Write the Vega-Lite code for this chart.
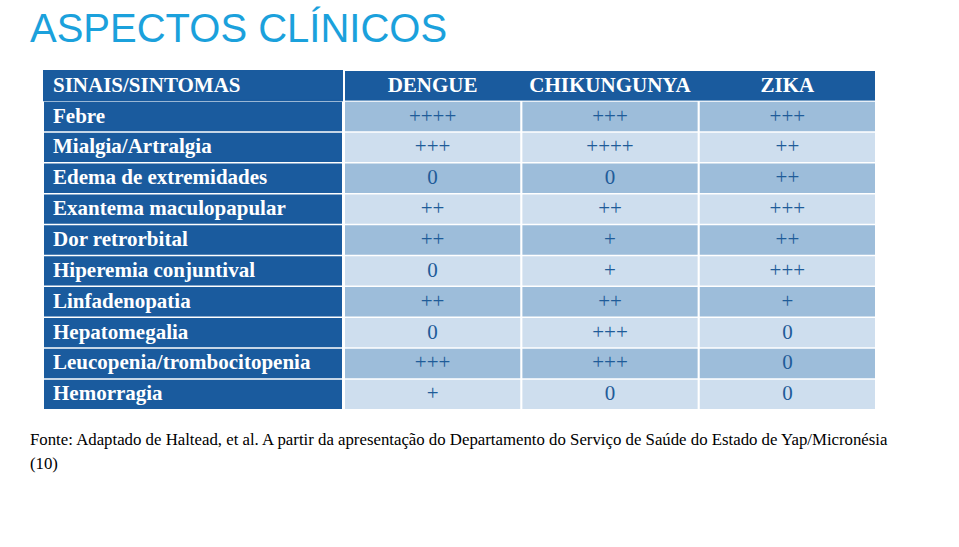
{
  "$schema": "https://vega.github.io/schema/vega-lite/v6.json",
  "background": "white",
  "padding": {"left": 30, "top": 10, "right": 5, "bottom": 5},
  "config": {"view": {"stroke": null}},
  "datasets": {
    "cells": [
      {"symptom": "Febre", "disease": "DENGUE", "value": "++++"},
      {"symptom": "Febre", "disease": "CHIKUNGUNYA", "value": "+++"},
      {"symptom": "Febre", "disease": "ZIKA", "value": "+++"},
      {"symptom": "Mialgia/Artralgia", "disease": "DENGUE", "value": "+++"},
      {"symptom": "Mialgia/Artralgia", "disease": "CHIKUNGUNYA", "value": "++++"},
      {"symptom": "Mialgia/Artralgia", "disease": "ZIKA", "value": "++"},
      {"symptom": "Edema de extremidades", "disease": "DENGUE", "value": "0"},
      {"symptom": "Edema de extremidades", "disease": "CHIKUNGUNYA", "value": "0"},
      {"symptom": "Edema de extremidades", "disease": "ZIKA", "value": "++"},
      {"symptom": "Exantema maculopapular", "disease": "DENGUE", "value": "++"},
      {"symptom": "Exantema maculopapular", "disease": "CHIKUNGUNYA", "value": "++"},
      {"symptom": "Exantema maculopapular", "disease": "ZIKA", "value": "+++"},
      {"symptom": "Dor retrorbital", "disease": "DENGUE", "value": "++"},
      {"symptom": "Dor retrorbital", "disease": "CHIKUNGUNYA", "value": "+"},
      {"symptom": "Dor retrorbital", "disease": "ZIKA", "value": "++"},
      {"symptom": "Hiperemia conjuntival", "disease": "DENGUE", "value": "0"},
      {"symptom": "Hiperemia conjuntival", "disease": "CHIKUNGUNYA", "value": "+"},
      {"symptom": "Hiperemia conjuntival", "disease": "ZIKA", "value": "+++"},
      {"symptom": "Linfadenopatia", "disease": "DENGUE", "value": "++"},
      {"symptom": "Linfadenopatia", "disease": "CHIKUNGUNYA", "value": "++"},
      {"symptom": "Linfadenopatia", "disease": "ZIKA", "value": "+"},
      {"symptom": "Hepatomegalia", "disease": "DENGUE", "value": "0"},
      {"symptom": "Hepatomegalia", "disease": "CHIKUNGUNYA", "value": "+++"},
      {"symptom": "Hepatomegalia", "disease": "ZIKA", "value": "0"},
      {"symptom": "Leucopenia/trombocitopenia", "disease": "DENGUE", "value": "+++"},
      {"symptom": "Leucopenia/trombocitopenia", "disease": "CHIKUNGUNYA", "value": "+++"},
      {"symptom": "Leucopenia/trombocitopenia", "disease": "ZIKA", "value": "0"},
      {"symptom": "Hemorragia", "disease": "DENGUE", "value": "+"},
      {"symptom": "Hemorragia", "disease": "CHIKUNGUNYA", "value": "0"},
      {"symptom": "Hemorragia", "disease": "ZIKA", "value": "0"}
    ]
  },
  "title": {
    "text": "ASPECTOS CLÍNICOS",
    "anchor": "start",
    "frame": "bounds",
    "font": "Liberation Sans",
    "fontSize": 40,
    "fontWeight": "normal",
    "color": "#1BA1DC",
    "offset": 20
  },
  "vconcat": [
    {
      "title": {
        "text": ["Fonte: Adaptado de Haltead, et al. A partir da apresentação do Departamento do Serviço de Saúde do Estado de Yap/Micronésia", "(10)"],
        "orient": "bottom",
        "anchor": "start",
        "frame": "bounds",
        "font": "Liberation Serif",
        "fontSize": 16.8,
        "fontWeight": "normal",
        "color": "#000000",
        "lineHeight": 24,
        "dx": -13,
        "offset": 23
      },
      "spacing": 2,
      "hconcat": [
        {
          "width": 298,
          "height": 338,
          "data": {"name": "cells"},
          "transform": [{"filter": "datum.disease === 'DENGUE'"}],
          "encoding": {
            "y": {
              "field": "symptom",
              "type": "nominal",
              "scale": {
                "domain": ["SINAIS/SINTOMAS", "Febre", "Mialgia/Artralgia", "Edema de extremidades", "Exantema maculopapular", "Dor retrorbital", "Hiperemia conjuntival", "Linfadenopatia", "Hepatomegalia", "Leucopenia/trombocitopenia", "Hemorragia"],
                "paddingInner": 0.05,
                "paddingOuter": 0
              },
              "axis": null
            }
          },
          "layer": [
            {"mark": {"type": "rect", "color": "#1A5B9E"}},
            {
              "mark": {"type": "text", "align": "left", "baseline": "middle", "dx": 9, "font": "Liberation Serif", "fontSize": 21, "fontWeight": "bold", "color": "white"},
              "encoding": {"x": {"value": 0}, "text": {"field": "symptom"}}
            },
            {
              "transform": [{"filter": "datum.symptom === 'Febre'"}],
              "mark": {"type": "rect", "color": "#1A5B9E", "stroke": "#1A5B9E", "strokeWidth": 2},
              "encoding": {"y": {"datum": "SINAIS/SINTOMAS", "type": "nominal"}}
            },
            {
              "transform": [{"filter": "datum.symptom === 'Febre'"}],
              "mark": {"type": "text", "align": "left", "baseline": "middle", "dx": 9, "font": "Liberation Serif", "fontSize": 21, "fontWeight": "bold", "color": "white"},
              "encoding": {"x": {"value": 0}, "y": {"datum": "SINAIS/SINTOMAS", "type": "nominal"}, "text": {"datum": "SINAIS/SINTOMAS"}}
            }
          ]
        },
        {
          "width": 530,
          "height": 338,
          "data": {"name": "cells"},
          "encoding": {
            "y": {
              "field": "symptom",
              "type": "nominal",
              "scale": {
                "domain": ["SINAIS/SINTOMAS", "Febre", "Mialgia/Artralgia", "Edema de extremidades", "Exantema maculopapular", "Dor retrorbital", "Hiperemia conjuntival", "Linfadenopatia", "Hepatomegalia", "Leucopenia/trombocitopenia", "Hemorragia"],
                "paddingInner": 0.05,
                "paddingOuter": 0
              },
              "axis": null
            }
          },
          "layer": [
            {
              "mark": {"type": "rect"},
              "encoding": {
                "x": {"field": "disease", "type": "nominal", "scale": {"domain": ["DENGUE", "CHIKUNGUNYA", "ZIKA"], "paddingInner": 0.012, "paddingOuter": 0}, "axis": null},
                "color": {
                  "field": "symptom",
                  "type": "nominal",
                  "scale": {
                    "domain": ["Febre", "Mialgia/Artralgia", "Edema de extremidades", "Exantema maculopapular", "Dor retrorbital", "Hiperemia conjuntival", "Linfadenopatia", "Hepatomegalia", "Leucopenia/trombocitopenia", "Hemorragia"],
                    "range": ["#9DBDDA", "#CEDEEE", "#9DBDDA", "#CEDEEE", "#9DBDDA", "#CEDEEE", "#9DBDDA", "#CEDEEE", "#9DBDDA", "#CEDEEE"]
                  },
                  "legend": null
                }
              }
            },
            {
              "mark": {"type": "text", "baseline": "middle", "font": "Liberation Serif", "fontSize": 21, "color": "#1F5C99"},
              "encoding": {
                "x": {"field": "disease", "type": "nominal"},
                "text": {"field": "value"}
              }
            },
            {
              "transform": [{"filter": "datum.symptom === 'Febre'"}],
              "mark": {"type": "rect", "color": "#1A5B9E"},
              "encoding": {"y": {"datum": "SINAIS/SINTOMAS", "type": "nominal"}}
            },
            {
              "transform": [{"filter": "datum.symptom === 'Febre'"}],
              "mark": {"type": "text", "baseline": "middle", "font": "Liberation Serif", "fontSize": 21, "fontWeight": "bold", "color": "white"},
              "encoding": {
                "x": {"field": "disease", "type": "nominal"},
                "y": {"datum": "SINAIS/SINTOMAS", "type": "nominal"},
                "text": {"field": "disease"}
              }
            }
          ]
        }
      ]
    }
  ]
}
